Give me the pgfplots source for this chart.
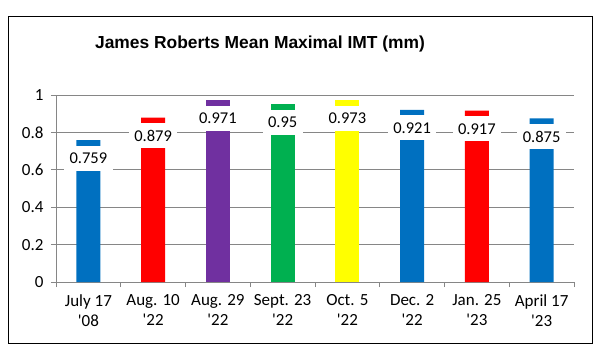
\documentclass[border=0pt]{standalone}
\usepackage{pgfplots}
\pgfplotsset{compat=1.18}
\usepackage{fontspec}
\setmainfont{Carlito}
\newfontfamily\arialfont{Liberation Sans}
\definecolor{cblue}{HTML}{0070C0}
\definecolor{cred}{HTML}{FF0000}
\definecolor{cpurple}{HTML}{7030A0}
\definecolor{cgreen}{HTML}{00B050}
\definecolor{cyellow}{HTML}{FFFF00}
\definecolor{gridgray}{HTML}{868686}
\begin{document}
\begin{tikzpicture}
\begin{axis}[
  name=ax,
  width=518bp, height=187bp, scale only axis,
  xmin=-0.5, xmax=7.5, ymin=0, ymax=1,
  axis x line=bottom, axis y line=left,
  axis line style={draw=gridgray, line width=0.75bp, -},
  ytick={0,0.2,0.4,0.6,0.8,1},
  ymajorgrids, grid style={draw=gridgray, line width=0.75bp},
  tick align=outside, major tick length=5bp,
  tick style={draw=gridgray, line width=0.75bp},
  xtick={-0.5,0.5,...,7.5}, xticklabels={},
  extra x ticks={0,1,2,3,4,5,6,7},
  extra x tick labels={{July 17\\\textquotesingle08},{Aug. 10\\\textquotesingle22},{Aug. 29\\\textquotesingle22},{Sept. 23\\\textquotesingle22},{Oct. 5\\\textquotesingle22},{Dec. 2\\\textquotesingle22},{Jan. 25\\\textquotesingle23},{April 17\\\textquotesingle23}},
  extra x tick style={major tick length=0pt, xticklabel style={align=center, font=\fontsize{17bp}{20bp}\selectfont, yshift=-9bp}},
  yticklabel style={font=\fontsize{17bp}{20bp}\selectfont, xshift=-4bp},
  /pgf/number format/assume math mode=true,
  clip=false,
  every axis plot/.append style={ybar, bar width=24bp, bar shift=0pt, draw=none,
    point meta=explicit symbolic, nodes near coords,
    every node near coord/.style={fill=white, anchor=north, yshift=-5.5bp, inner xsep=5.5bp, inner ysep=0pt, minimum height=25bp, text=black, font=\fontsize{16.5bp}{20bp}\selectfont}},
]
\addplot[fill=cblue] coordinates {(0,0.759)[0.759] (5,0.921)[0.921] (7,0.875)[0.875]};
\addplot[fill=cred] coordinates {(1,0.879)[0.879] (6,0.917)[0.917]};
\addplot[fill=cpurple] coordinates {(2,0.971)[0.971]};
\addplot[fill=cgreen] coordinates {(3,0.95)[0.95]};
\addplot[fill=cyellow] coordinates {(4,0.973)[0.973]};
\end{axis}
\path ([shift={(-56bp,-74bp)}]ax.south west) rectangle ([shift={(23bp,95bp)}]ax.north east);
\draw[black, line width=1bp] ([shift={(-47bp,-61bp)}]ax.south west) rectangle ([shift={(18bp,78bp)}]ax.north east);
\node[font=\arialfont\bfseries\fontsize{17.4bp}{20bp}\selectfont, anchor=center] at ([shift={(204bp,51bp)}]ax.north west) {James Roberts Mean Maximal IMT (mm)};
\end{tikzpicture}
\end{document}
